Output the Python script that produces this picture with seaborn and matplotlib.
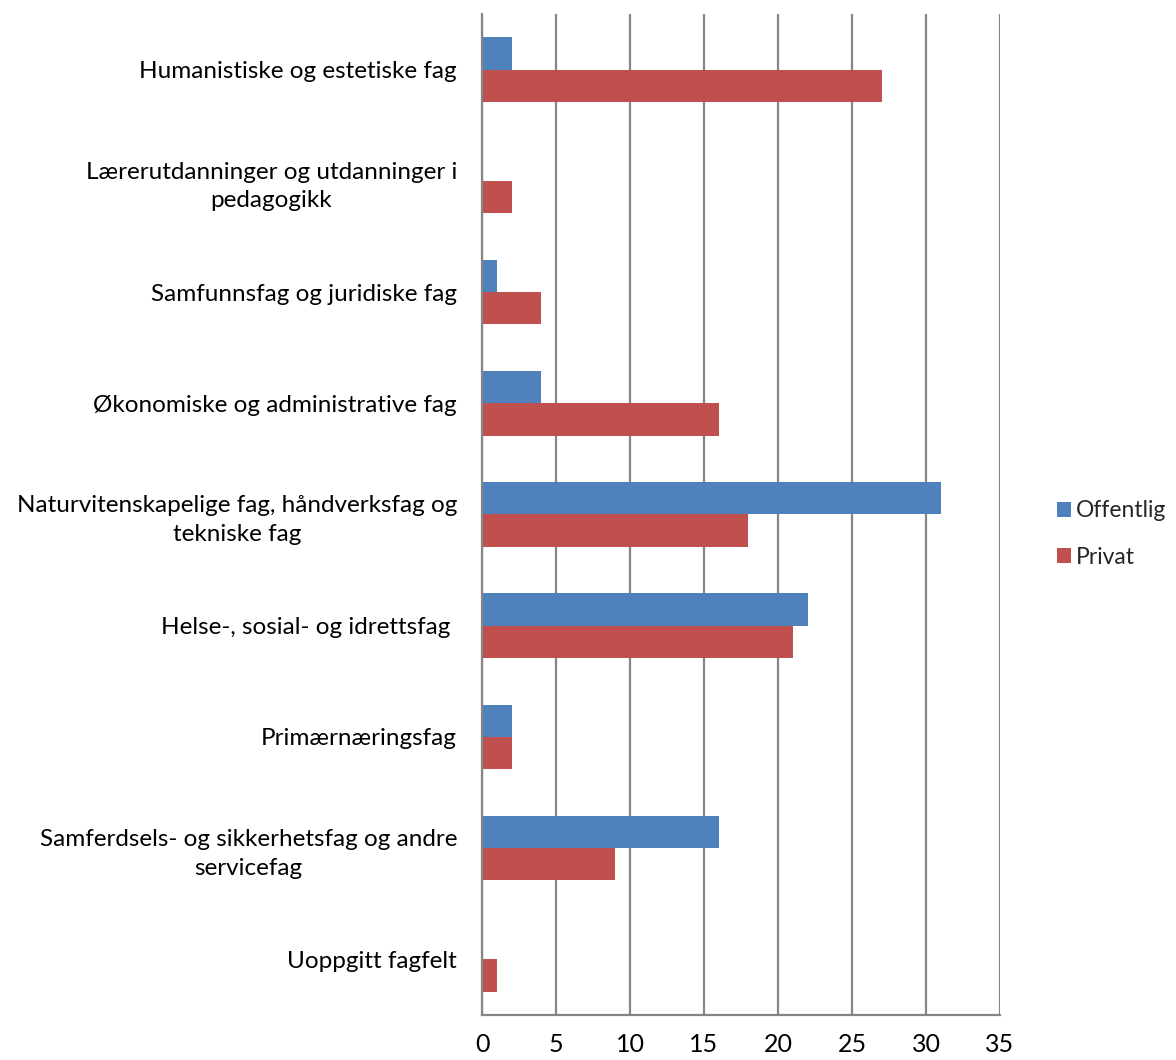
import matplotlib
matplotlib.use("Agg")
import matplotlib.pyplot as plt
from matplotlib.ticker import FixedLocator, MultipleLocator
from matplotlib.patches import Patch
import seaborn as sns
import pandas as pd

categories = [
    "Humanistiske og estetiske fag",
    "Lærerutdanninger og utdanninger i\npedagogikk",
    "Samfunnsfag og juridiske fag",
    "Økonomiske og administrative fag",
    "Naturvitenskapelige fag, håndverksfag og\ntekniske fag",
    "Helse-, sosial- og idrettsfag ",
    "Primærnæringsfag",
    "Samferdsels- og sikkerhetsfag og andre\nservicefag",
    "Uoppgitt fagfelt",
]
offentlig = [2, 0, 1, 4, 31, 22, 2, 16, 0]
privat = [27, 2, 4, 16, 18, 21, 2, 9, 1]
series = ["Offentlig", "Privat"]
colors = ["#4F81BD", "#C0504D"]

df = pd.DataFrame({"Fagfelt": categories, "Offentlig": offentlig, "Privat": privat})
long = df.melt(id_vars="Fagfelt", var_name="Sektor", value_name="Antall")

sns.set_style("white")
plt.rcParams["font.family"] = ["Lato", "DejaVu Sans"]

fig = plt.figure(figsize=(11.76, 10.6), dpi=100)
ax = fig.add_axes([482/1176, 1-1015/1060, (1000-482)/1176, (1015-14)/1060])

sns.barplot(data=long, y="Fagfelt", x="Antall", hue="Sektor", hue_order=series,
            order=categories, palette=colors, orient="h", width=0.58, gap=0,
            saturation=1, ax=ax, legend=False, edgecolor="none")

grid_c = "#868686"
ax.set_xlim(0, 35)
ax.set_ylim(len(categories) - 0.5, -0.5)
ax.xaxis.set_major_locator(MultipleLocator(5))
ax.grid(axis="x", color=grid_c, linewidth=1.6)
ax.set_axisbelow(True)
ax.set_xlabel("")
ax.set_ylabel("")

for s in ["top", "right"]:
    ax.spines[s].set_visible(False)
for s in ["left", "bottom"]:
    ax.spines[s].set_color(grid_c)
    ax.spines[s].set_linewidth(1.6)

ax.tick_params(axis="x", which="major", length=8, width=1.6, color=grid_c,
               labelsize=18, pad=5, labelcolor="black")
ax.tick_params(axis="y", which="major", length=0, labelsize=17.5, pad=18, labelcolor="black")
ax.yaxis.set_minor_locator(FixedLocator([i - 0.5 for i in range(len(categories) + 1)]))
ax.tick_params(axis="y", which="minor", length=8, width=1.6, color=grid_c)
for lab in ax.get_yticklabels():
    lab.set_multialignment("center")
    lab.set_linespacing(1.45)

handles = [Patch(facecolor=c, edgecolor="none") for c in colors]
fig.legend(handles, series, loc="center left", bbox_to_anchor=(1057/1176, 1-534/1060),
           frameon=False, fontsize=16.5, handlelength=0.62, handleheight=0.62,
           handletextpad=0.22, labelspacing=1.1, borderaxespad=0, borderpad=0)

fig.savefig("out.png", dpi=100)
